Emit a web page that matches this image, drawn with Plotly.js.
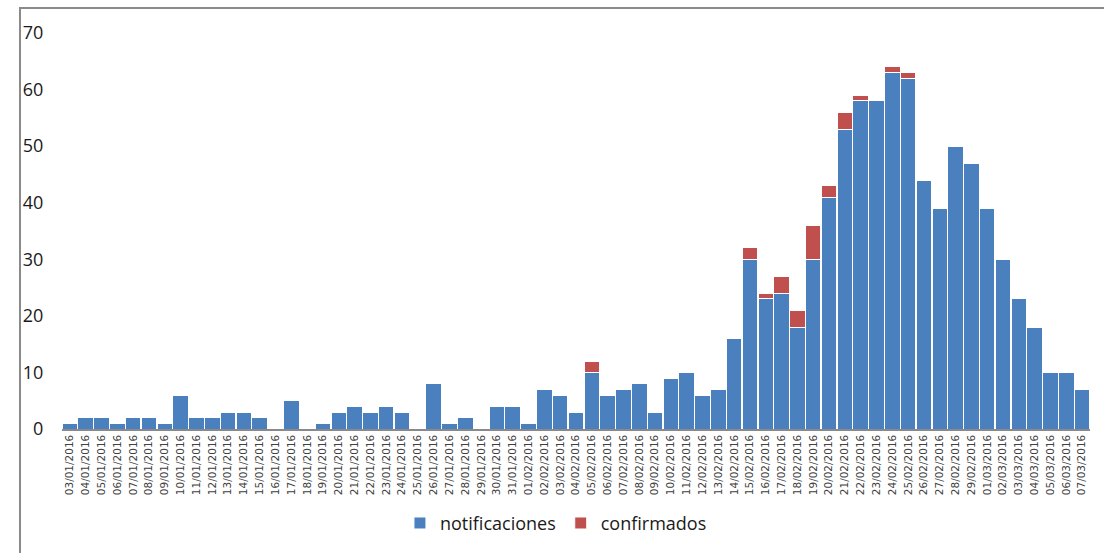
<!DOCTYPE html>
<html>
<head>
<meta charset="utf-8">
<script src="https://cdn.plot.ly/plotly-3.0.1.min.js"></script>
<style>
  html, body { margin: 0; padding: 0; background: #fff; }
  #chart { width: 1104px; height: 553px; }
  #frame { position: absolute; left: 19px; top: 7px; width: 1200px; height: 700px;
           border-left: 2px solid #8a8a8a; border-top: 2px solid #8a8a8a; pointer-events: none; }
</style>
</head>
<body>
<div id="chart"></div>
<div id="frame"></div>
<script>
const dates = [
  "03/01/2016","04/01/2016","05/01/2016","06/01/2016","07/01/2016","08/01/2016","09/01/2016",
  "10/01/2016","11/01/2016","12/01/2016","13/01/2016","14/01/2016","15/01/2016","16/01/2016",
  "17/01/2016","18/01/2016","19/01/2016","20/01/2016","21/01/2016","22/01/2016","23/01/2016",
  "24/01/2016","25/01/2016","26/01/2016","27/01/2016","28/01/2016","29/01/2016","30/01/2016",
  "31/01/2016","01/02/2016","02/02/2016","03/02/2016","04/02/2016","05/02/2016","06/02/2016",
  "07/02/2016","08/02/2016","09/02/2016","10/02/2016","11/02/2016","12/02/2016","13/02/2016",
  "14/02/2016","15/02/2016","16/02/2016","17/02/2016","18/02/2016","19/02/2016","20/02/2016",
  "21/02/2016","22/02/2016","23/02/2016","24/02/2016","25/02/2016","26/02/2016","27/02/2016",
  "28/02/2016","29/02/2016","01/03/2016","02/03/2016","03/03/2016","04/03/2016","05/03/2016",
  "06/03/2016","07/03/2016"
];
const notificaciones = [
  1,2,2,1,2,2,1,
  6,2,2,3,3,2,0,
  5,0,1,3,4,3,4,
  3,0,8,1,2,0,4,
  4,1,7,6,3,10,6,
  7,8,3,9,10,6,7,
  16,30,23,24,18,30,41,
  53,58,58,63,62,44,39,
  50,47,39,30,23,18,10,
  10,7
];
const confirmados = [
  0,0,0,0,0,0,0,
  0,0,0,0,0,0,0,
  0,0,0,0,0,0,0,
  0,0,0,0,0,0,0,
  0,0,0,0,0,2,0,
  0,0,0,0,0,0,0,
  0,2,1,3,3,6,2,
  3,1,0,1,1,0,0,
  0,0,0,0,0,0,0,
  0,0
];
const yTicks = [0,10,20,30,40,50,60,70];

const blue = "#4a80bd";
const red = "#c0504d";

const traces = [
  {
    type: "bar", name: "notificaciones", x: dates,
    y: notificaciones.map(v => v === 0 ? null : v),
    marker: { color: blue, line: { color: "#ffffff", width: 1 } },
    hoverinfo: "x+y"
  },
  {
    type: "bar", name: "confirmados", x: dates,
    y: confirmados.map(v => v === 0 ? null : v),
    marker: { color: red, line: { color: "#ffffff", width: 1 } },
    hoverinfo: "x+y"
  }
];

const layout = {
  width: 1104, height: 553,
  margin: { l: 62, r: 14, t: 33, b: 123 },
  paper_bgcolor: "#ffffff", plot_bgcolor: "#ffffff",
  barmode: "stack", bargap: 0.02,
  showlegend: true,
  legend: {
    orientation: "h", x: 0.4805, xanchor: "center", y: -0.235, yanchor: "middle",
    font: { family: "Open Sans, sans-serif", size: 18, color: "#1a1a1a" },
    itemwidth: 30, traceorder: "normal"
  },
  xaxis: {
    type: "category", categoryorder: "array", categoryarray: dates,
    tickangle: -90, tickfont: { family: "DejaVu Sans, sans-serif", size: 10.5, color: "#404040" },
    showline: true, linecolor: "#8a8a8a", linewidth: 1.5,
    showgrid: false, ticks: "", zeroline: false, automargin: false
  },
  yaxis: {
    range: [0, 70], tickvals: yTicks, ticktext: yTicks.map(String),
    tickfont: { family: "Open Sans, sans-serif", size: 18, color: "#1a1a1a" },
    showgrid: false, zeroline: false, showline: false,
    ticks: "outside", ticklen: 14, tickcolor: "rgba(0,0,0,0)", automargin: false
  }
};

Plotly.newPlot("chart", traces, layout, { displayModeBar: false, staticPlot: true });
</script>
</body>
</html>
